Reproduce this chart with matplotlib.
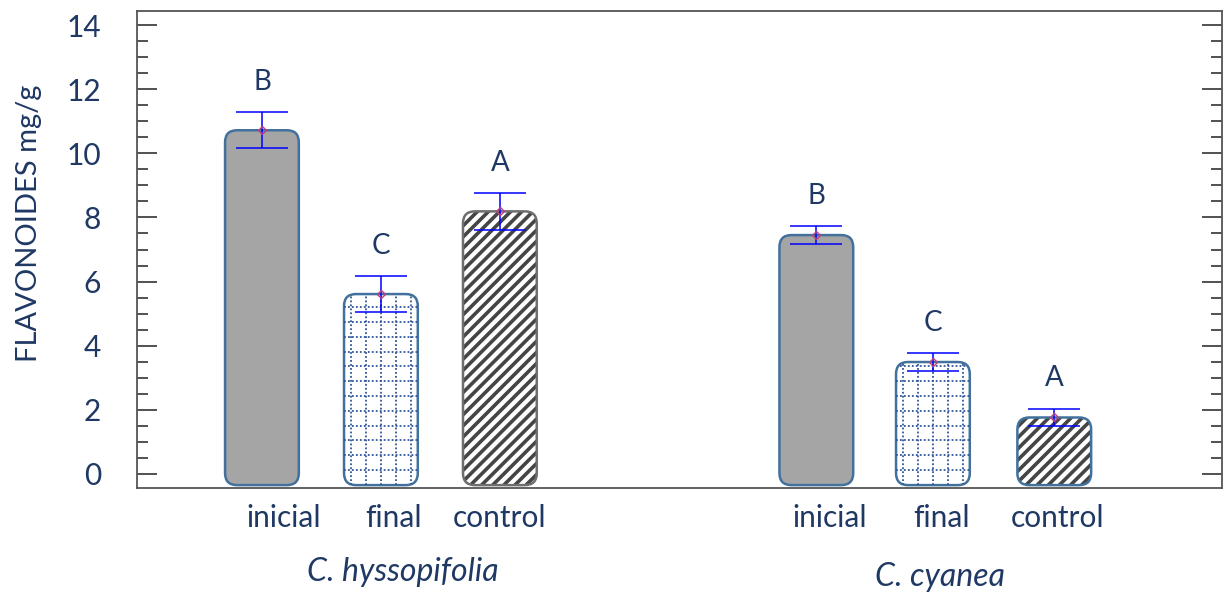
import numpy as np
import matplotlib
matplotlib.use("Agg")
import matplotlib.pyplot as plt
from matplotlib.patches import FancyBboxPatch
from matplotlib.lines import Line2D

plt.rcParams['font.family'] = ['Lato', 'DejaVu Sans']
plt.rcParams['hatch.linewidth'] = 2.6

# flavonoid content per treatment, two species
treatments = ["inicial", "final", "control"]
species = ["C. hyssopifolia", "C. cyanea"]
means = [10.72, 5.61, 8.19, 7.45, 3.49, 1.76]
errors = [0.56, 0.56, 0.57, 0.28, 0.28, 0.28]
letters = ["B", "C", "A", "B", "C", "A"]

TXT = "#1F3864"
EDGE = "#41719C"

# bar centres (group of 3, gap, group of 3)
xpos = np.array([0, 1, 2, 4.66, 5.64, 6.66])
label_shift = np.array([0.18, 0.11, 0.0, 0.11, 0.07, 0.03])
bar_w = 0.62
base = -0.35

fig = plt.figure(figsize=(12.3, 5.92), dpi=100)
ax = fig.add_axes([0.1114, 0.1762, 0.8821, 0.8052])
ax.set_xlim(-1.05, 8.07)
ax.set_ylim(-0.43, 14.44)

# pixel scale for circular corners
px_x = ax.transData.transform((1, 0))[0] - ax.transData.transform((0, 0))[0]
px_y = ax.transData.transform((0, 1))[1] - ax.transData.transform((0, 0))[1]
aspect = px_x / px_y
rad = 12 / px_x

for i, (x, m) in enumerate(zip(xpos, means)):
    kind = i % 3
    x0 = x - bar_w / 2
    h = m - base
    if kind == 0:
        fc, ec, hatch = "#A5A5A5", EDGE, None
    elif kind == 1:
        fc, ec, hatch = "white", EDGE, None
    else:
        fc, ec, hatch = "white", ("#6E6E6E" if i < 3 else EDGE), "///"
    p = FancyBboxPatch((x0, base), bar_w, h,
                       boxstyle=f"round,pad=0,rounding_size={rad}",
                       mutation_aspect=aspect, fc=fc, ec=ec, lw=1.8,
                       zorder=2)
    if hatch:
        p.set_hatch(hatch)
        p._hatch_color = matplotlib.colors.to_rgba("#454545")
    ax.add_patch(p)
    if kind == 1:
        # dotted grid fill
        gx = 15 / px_x
        gy = 14.8 / px_y
        for vx in np.arange(x - 2 * gx, x + 2.01 * gx, gx):
            ln = Line2D([vx, vx], [base, m], color="#2F5597", lw=1.3,
                        ls=(0, (1, 1.2)), zorder=2.5)
            ln.set_clip_path(p)
            ax.add_line(ln)
        for hy in np.arange(base + 0.47, m, gy):
            ln = Line2D([x0, x0 + bar_w], [hy, hy], color="#2F5597", lw=1.3,
                        ls=(0, (1, 1.2)), zorder=2.5)
            ln.set_clip_path(p)
            ax.add_line(ln)

ax.errorbar(xpos, means, yerr=errors, fmt="none", ecolor="#0000FF",
            elinewidth=1.1, capsize=19, capthick=1.1, zorder=4)
ax.plot(xpos, means, ls="none", marker="D", ms=4, mfc="none",
        mec="#C0407F", mew=1, zorder=5)

for x, m, e, s in zip(xpos, means, errors, letters):
    ax.text(x, m + e + 0.95, s, ha="center", va="center", fontsize=20,
            color=TXT)

# axes frame and ticks
for sp in ax.spines.values():
    sp.set_color("#555555")
    sp.set_linewidth(1.3)
ax.set_yticks(np.arange(0, 15, 2))
ax.set_yticks(np.arange(0, 14.01, 0.5), minor=True)
ax.tick_params(axis="y", which="major", direction="in", length=14.5,
               width=1.2, color="#333333", right=True, labelsize=21.5,
               labelcolor=TXT, pad=26)
ax.tick_params(axis="y", which="minor", direction="in", length=8,
               width=1.2, color="#333333", right=True)
ax.set_xticks(xpos + label_shift)
ax.set_xticklabels(treatments * 2)
ax.tick_params(axis="x", length=0, labelsize=21.5, labelcolor=TXT, pad=12)
ax.set_ylabel("FLAVONOIDES mg/g", fontsize=21, color=TXT)
ax.yaxis.set_label_coords(-0.088, 0.555)

for sp_name, cx, yy in zip(species, [1.18, 5.7], [-0.177, -0.187]):
    ax.text(cx, yy, sp_name, transform=ax.get_xaxis_transform(),
            ha="center", va="center", fontsize=23, style="italic",
            color=TXT)

fig.savefig("out.png", dpi=100)
